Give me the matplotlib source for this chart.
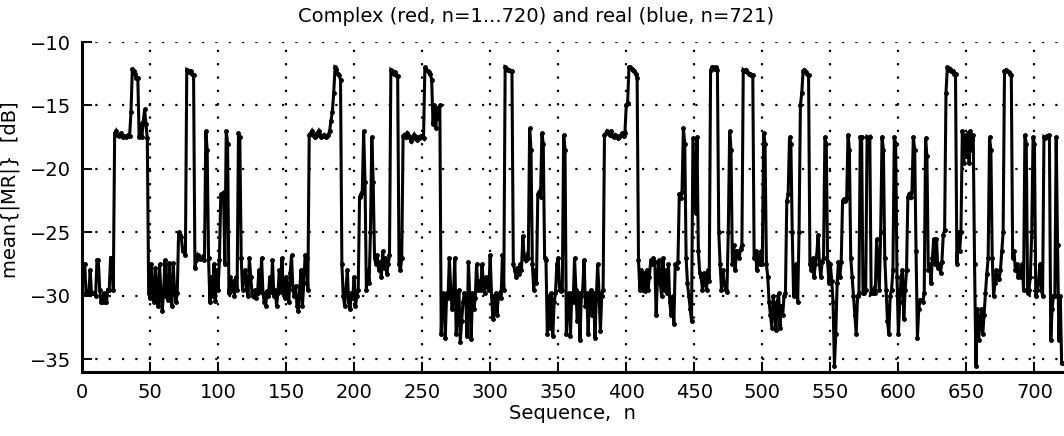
import numpy as np
import matplotlib
matplotlib.use("Agg")
import matplotlib.pyplot as plt

# mean{|MR|} [dB], n = 1..721, in blocks of 100
seg_001_100 = [-27.5, -27.5, -29.8, -29.8, -29.8, -28.0, -29.8, -29.8, -29.8, -30.0,
               -27.2, -27.2, -29.5, -30.5, -30.5, -29.8, -30.5, -30.5, -29.5, -29.5,
               -27.0, -27.0, -29.5, -17.2, -17.0, -17.3, -17.4, -17.3, -17.2, -17.5,
               -17.4, -17.5, -17.4, -17.3, -17.4, -15.5, -12.1, -12.3, -12.5, -12.8,
               -12.8, -17.5, -16.5, -17.5, -16.3, -15.3, -16.5, -17.6, -29.8, -30.2,
               -27.5, -29.5, -30.5, -27.8, -29.8, -30.8, -27.5, -29.8, -31.2, -29.6,
               -27.2, -30.0, -30.3, -27.4, -29.7, -30.8, -27.4, -29.5, -30.5, -29.8,
               -25.0, -25.2, -25.4, -26.5, -26.3, -26.8, -12.2, -12.3, -12.4, -12.3,
               -12.5, -12.6, -27.8, -27.2, -26.8, -27.0, -27.1, -27.0, -26.9, -27.2,
               -17.0, -18.5, -27.0, -30.5, -28.5, -30.0, -27.5, -30.4, -28.0, -29.5]
seg_101_200 = [-27.2, -22.0, -22.2, -21.8, -27.5, -17.0, -18.0, -29.8, -28.5, -29.5,
               -28.8, -30.0, -28.5, -29.5, -17.2, -17.5, -27.0, -29.5, -28.5, -28.0,
               -29.5, -30.0, -27.0, -28.5, -29.8, -30.0, -29.5, -30.2, -29.8, -28.0,
               -29.5, -27.0, -29.8, -30.5, -30.8, -29.6, -30.0, -28.5, -29.7, -27.2,
               -30.0, -29.5, -30.8, -29.8, -28.0, -29.5, -27.0, -29.8, -30.2, -28.5,
               -29.6, -30.5, -28.2, -26.8, -29.5, -30.0, -29.2, -30.8, -31.2, -29.5,
               -28.0, -30.8, -29.0, -26.8, -27.0, -29.5, -17.3, -17.2, -17.0, -17.3,
               -17.5, -17.4, -17.2, -17.0, -17.3, -17.5, -17.4, -17.3, -17.5, -17.4,
               -17.3, -17.0, -16.2, -15.5, -14.0, -12.0, -12.1, -12.5, -12.6, -13.0,
               -27.5, -30.0, -30.8, -29.5, -28.0, -30.5, -31.0, -29.8, -30.2, -28.5]
seg_201_300 = [-30.8, -30.0, -29.5, -22.2, -22.0, -21.8, -17.0, -21.0, -29.5, -28.0,
               -29.0, -25.0, -17.5, -21.0, -27.0, -27.5, -26.8, -28.0, -27.3, -28.5,
               -26.5, -27.8, -27.0, -28.3, -27.5, -26.8, -12.2, -12.3, -12.5, -12.4,
               -12.6, -12.7, -27.5, -28.0, -27.0, -17.4, -17.3, -17.5, -17.2, -17.4,
               -17.6, -17.8, -17.5, -17.3, -17.6, -17.7, -17.5, -17.6, -17.4, -17.5,
               -17.6, -12.0, -12.2, -12.3, -12.4, -12.5, -13.0, -16.5, -15.0, -16.8,
               -15.2, -16.0, -15.0, -33.0, -29.8, -30.0, -33.3, -29.8, -30.2, -27.0,
               -29.5, -31.0, -30.0, -27.0, -33.0, -31.5, -29.5, -33.6, -32.0, -30.5,
               -29.8, -30.0, -33.2, -27.3, -30.0, -33.4, -29.8, -31.0, -30.2, -27.5,
               -29.5, -28.8, -29.5, -27.5, -29.0, -29.8, -28.5, -29.2, -29.5, -26.8]
seg_301_400 = [-30.0, -31.8, -30.5, -29.8, -31.5, -30.0, -29.8, -30.2, -26.8, -29.5,
               -12.0, -12.1, -12.2, -12.2, -12.3, -12.3, -27.5, -28.0, -28.5, -27.8,
               -28.3, -27.5, -28.0, -25.3, -27.0, -27.2, -26.8, -27.0, -16.8, -18.5,
               -27.5, -29.5, -28.0, -29.0, -22.0, -21.8, -22.2, -17.2, -18.0, -27.0,
               -27.2, -33.0, -30.0, -32.5, -29.8, -33.2, -30.5, -29.8, -27.5, -27.0,
               -29.5, -29.6, -29.5, -17.3, -18.5, -33.0, -30.0, -29.8, -33.2, -29.8,
               -30.5, -27.0, -29.5, -32.0, -29.8, -33.5, -30.0, -29.5, -27.2, -30.8,
               -29.8, -33.0, -30.0, -29.5, -31.5, -29.8, -33.3, -30.2, -27.5, -29.8,
               -32.8, -30.0, -29.5, -17.3, -17.2, -17.0, -17.1, -17.3, -17.0, -17.4,
               -17.5, -17.3, -17.4, -17.6, -17.5, -17.3, -17.2, -17.4, -17.2, -15.0]
seg_401_500 = [-14.8, -12.0, -12.0, -12.1, -12.2, -12.3, -12.5, -12.8, -27.2, -29.5,
               -28.0, -29.5, -28.2, -29.6, -28.0, -29.5, -28.5, -27.2, -27.5, -27.0,
               -27.3, -31.5, -28.5, -27.2, -29.0, -30.0, -27.0, -29.5, -28.0, -29.8,
               -27.5, -30.5, -31.5, -30.0, -32.2, -27.5, -27.8, -27.3, -22.0, -22.3,
               -21.8, -16.8, -18.0, -27.0, -29.0, -30.0, -31.0, -32.0, -17.6, -20.5,
               -23.5, -17.5, -26.5, -28.2, -28.5, -29.5, -28.2, -29.0, -29.5, -28.0,
               -28.8, -12.2, -12.0, -12.0, -12.1, -12.0, -12.2, -25.0, -27.5, -29.5,
               -28.0, -29.0, -29.5, -29.7, -25.0, -17.0, -18.5, -27.5, -26.0, -28.0,
               -26.5, -26.5, -27.0, -26.3, -26.0, -12.2, -12.3, -12.2, -12.4, -12.5,
               -12.5, -12.6, -12.6, -27.0, -26.5, -28.0, -26.8, -27.5, -26.5, -27.5]
seg_501_600 = [-17.2, -18.0, -27.5, -28.5, -30.5, -31.5, -32.5, -30.0, -31.0, -32.7,
               -30.5, -29.8, -32.5, -30.8, -31.5, -30.0, -29.8, -22.5, -22.0, -17.5,
               -18.0, -25.0, -30.0, -29.5, -27.5, -30.5, -25.0, -15.0, -14.0, -12.3,
               -12.2, -12.4, -12.5, -12.6, -27.5, -28.0, -27.0, -28.5, -27.5, -26.8,
               -25.2, -27.5, -28.5, -27.3, -27.0, -17.5, -18.0, -27.3, -29.0, -27.5,
               -28.8, -30.5, -35.5, -33.0, -29.0, -27.3, -28.5, -27.3, -22.5, -22.4,
               -22.5, -22.3, -17.3, -18.5, -27.0, -28.5, -30.0, -31.5, -33.0, -30.0,
               -29.8, -17.5, -17.5, -29.8, -29.8, -29.5, -17.5, -17.6, -17.5, -29.8,
               -29.8, -29.5, -29.8, -25.5, -27.5, -29.5, -25.0, -17.5, -18.5, -27.0,
               -29.5, -32.0, -33.0, -30.0, -29.5, -28.0, -17.5, -18.0, -28.5, -33.0]
seg_601_721 = [-30.5, -28.5, -28.0, -31.8, -29.5, -28.0, -22.2, -22.0, -22.2, -21.8,
               -17.5, -18.5, -26.5, -33.3, -31.0, -30.3, -30.3, -30.5, -29.8, -17.6,
               -19.0, -28.0, -27.5, -29.0, -27.0, -25.5, -27.5, -25.5, -27.8, -27.5,
               -28.2, -27.3, -25.2, -24.8, -14.0, -12.0, -12.2, -12.1, -12.3, -12.3,
               -12.5, -12.5, -27.5, -25.0, -26.5, -25.0, -17.0, -19.5, -17.3, -19.0,
               -17.2, -19.5, -17.0, -18.5, -17.3, -27.5, -35.5, -31.0, -33.5, -32.0,
               -31.0, -33.0, -31.5, -29.8, -28.3, -27.0, -17.5, -18.5, -27.0, -30.0,
               -29.0, -28.0, -28.7, -28.7, -28.0, -26.5, -25.0, -12.3, -12.2, -12.3,
               -12.4, -12.5, -12.6, -27.0, -26.5, -28.0, -27.5, -28.5, -27.8, -28.5,
               -27.5, -29.5, -17.3, -18.0, -29.8, -29.5, -28.5, -25.0, -17.5, -18.0,
               -30.0, -29.5, -29.0, -27.5, -29.5, -30.0, -17.5, -17.6, -17.4, -17.5,
               -17.3, -33.5, -31.0, -30.0, -30.0, -17.5, -26.0, -33.5, -30.0, -35.3,
               -35.3]

x_ticks = [0, 50, 100, 150, 200, 250, 300, 350, 400, 450, 500, 550, 600, 650, 700]
y_ticks = [-35, -30, -25, -20, -15, -10]

values = np.array(seg_001_100 + seg_101_200 + seg_201_300 + seg_301_400 +
                  seg_401_500 + seg_501_600 + seg_601_721)
n = np.arange(1, len(values) + 1)

plt.rcParams['font.family'] = ['DejaVu Sans']

fig = plt.figure(figsize=(10.64, 4.36), dpi=100)
ax = fig.add_axes([82 / 1064, 1 - 372 / 436, (1063 - 82) / 1064, (372 - 42) / 436])

ax.plot(n, values, color='black', linewidth=2.2, marker='.', markersize=5,
        solid_joinstyle='miter')

ax.set_xlim(0, 721)
ax.set_ylim(-36, -10)
ax.set_xticks(x_ticks)
ax.set_yticks(y_ticks)
ax.grid(True, color='black', linestyle=(0, (1, 5)), linewidth=1.6)
ax.tick_params(direction='in', length=7, width=1.4, labelsize=14, pad=8)
for s in ['top', 'right']:
    ax.spines[s].set_visible(False)
ax.spines['left'].set_linewidth(2.2)
ax.spines['bottom'].set_linewidth(2.2)

fig.text(536 / 1064, 1 - 16 / 436, 'Complex (red, n=1...720) and real (blue, n=721)',
         fontsize=14, ha='center', va='center')
ax.set_xlabel('Sequence,  n', fontsize=14, labelpad=1)
ax.set_ylabel('mean{|MR|}  [dB]', fontsize=14)
ax.yaxis.set_label_coords((20 - 82) / 981, (372 - 190) / 330)

fig.savefig('out.png', dpi=100)
